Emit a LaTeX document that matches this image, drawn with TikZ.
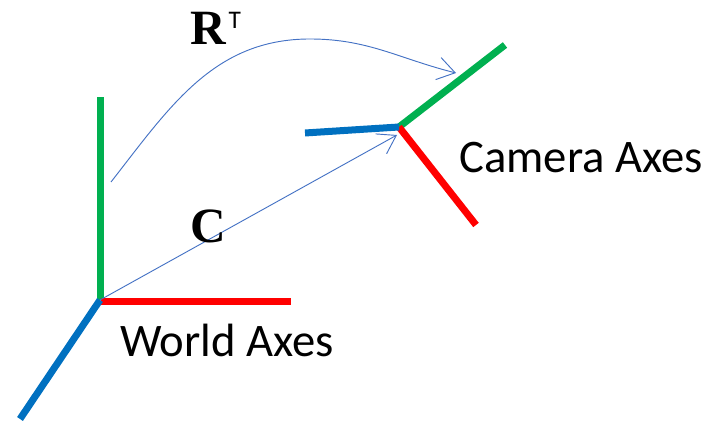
\documentclass[tikz,border=0pt]{standalone}
\usepackage{fontspec}
\setmainfont{Carlito}
\newfontfamily\serifbf{Liberation Serif}
\usetikzlibrary{arrows.meta}
\definecolor{axgreen}{RGB}{0,176,80}
\definecolor{axred}{RGB}{255,0,0}
\definecolor{axblue}{RGB}{0,112,192}
\definecolor{vecblue}{RGB}{68,114,196}
\tikzset{
  axis/.style={line width=5.25pt},
  vec/.style={draw=vecblue, line width=0.7pt, -{Straight Barb[length=13pt,width=17pt,line width=0.7pt]}},
  caption/.style={font=\fontsize{35}{42}\selectfont, inner sep=0pt, anchor=base west},
  symb/.style={font=\fontsize{37}{44}\selectfont\serifbf\bfseries, inner sep=0pt, anchor=base west}
}
\begin{document}
\begin{tikzpicture}[x=0.75pt, y=0.75pt]
  \useasboundingbox (0,0) rectangle (710,423);
  % world axes
  \coordinate (wO) at (100,123);
  \coordinate (wX) at (291,121);
  \coordinate (wY) at (100,326);
  \coordinate (wZ) at (20,4);
  \draw[axis, axgreen] (wO) -- (wY);
  \draw[axis, axred] (101,121) -- (wX);
  \draw[axis, axblue] (wO) -- (wZ);

  % camera axes
  \coordinate (cO) at (399,296);
  \coordinate (cX) at (476,198);
  \coordinate (cY) at (505,378);
  \coordinate (cZ) at (305,290);
  \draw[axis, axgreen] (cO) -- (cY);
  \draw[axis, axred] (cO) -- (cX);
  \draw[axis, axblue] (cO) -- (cZ);

  % translation and rotation
  \coordinate (cTip) at (397,288);
  \coordinate (rStart) at (111,241);
  \coordinate (rEnd) at (456,350);
  \draw[vec] (wO) -- (cTip);
  \draw[vec] (rStart) to[out=52, in=180] (310,384) to[out=0, in=166] (rEnd);

  % labels
  \node[symb] (lblR) at (190,378) {R\hspace{2pt}\raisebox{12.5pt}{\normalfont\fontsize{19}{22}\selectfont T}};
  \node[symb] (lblC) at (190,180) {C};
  \node[caption] (lblCam) at (459,250) {Camera Axes};
  \node[caption] (lblWorld) at (120,66) {World Axes};
\end{tikzpicture}
\end{document}
